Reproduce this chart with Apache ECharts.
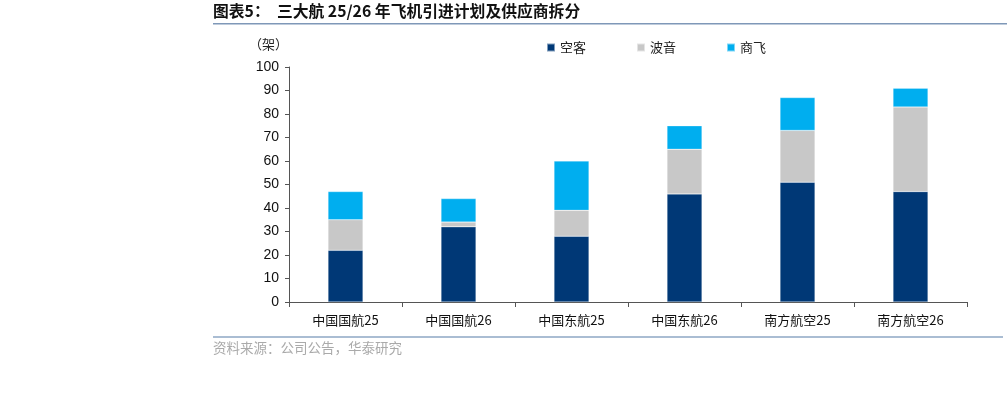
<!DOCTYPE html>
<html>
<head>
<meta charset="utf-8">
<script src="https://cdn.jsdelivr.net/npm/echarts@6/dist/echarts.min.js"></script>
<style>
  html, body { margin: 0; padding: 0; background: #fff; }
  #chart { width: 1007px; height: 400px; }
</style>
</head>
<body>
<div id="chart"></div>
<script>
var categories = ['中国国航25', '中国国航26', '中国东航25', '中国东航26', '南方航空25', '南方航空26'];
var airbus = [22, 32, 28, 46, 51, 47];
var boeing = [13, 2, 11, 19, 22, 36];
var comac = [12, 10, 21, 10, 14, 8];
var seriesNames = ['空客', '波音', '商飞'];
var yTicks = [0, 10, 20, 30, 40, 50, 60, 70, 80, 90, 100];

var myColor = ['#003876', '#c8c8c8', '#00aeef'];
var cjk = "'Noto Sans CJK SC', sans-serif";
var latin = "'Liberation Sans', Arial, sans-serif";

var chart = echarts.init(document.getElementById('chart'));

function bar(name, data, idx) {
  return {
    name: name,
    type: 'bar',
    stack: 'total',
    data: data,
    barWidth: 35,
    itemStyle: {
      color: myColor[idx],
      borderColor: 'rgba(255,255,255,0.5)',
      borderWidth: 0.5
    }
  };
}

chart.setOption({
  animation: false,
  color: myColor,
  grid: { left: 289, right: 40, top: 67, bottom: 98 },
  legend: {
    data: seriesNames,
    top: 36,
    left: 541,
    itemGap: 50,
    itemWidth: 8,
    itemHeight: 8,
    icon: 'rect',
    textStyle: { fontFamily: cjk, fontSize: 13, color: '#222' }
  },
  xAxis: {
    type: 'category',
    data: categories,
    axisLine: { lineStyle: { color: '#555', width: 1 } },
    axisTick: { show: true, length: 5, lineStyle: { color: '#555' } },
    axisLabel: { fontFamily: cjk, fontSize: 13, color: '#111', margin: 12 }
  },
  yAxis: {
    type: 'value',
    min: yTicks[0],
    max: yTicks[yTicks.length - 1],
    interval: 10,
    splitLine: { show: false },
    axisLine: { show: true, lineStyle: { color: '#555', width: 1 } },
    axisTick: { show: true, length: 4, lineStyle: { color: '#555' } },
    axisLabel: { fontFamily: latin, fontSize: 14, color: '#111', margin: 10 }
  },
  graphic: [
    {
      type: 'text', left: 213, top: 3,
      style: { text: '图表5：  三大航 25/26 年飞机引进计划及供应商拆分', font: 'bold 15.8px ' + cjk, fill: '#111' }
    },
    {
      type: 'rect', shape: { x: 213, y: 23, width: 794, height: 1.5 },
      style: { fill: '#7f98b8' }
    },
    {
      type: 'text', left: 249, top: 38,
      style: { text: '（架）', font: '13px ' + cjk, fill: '#222' }
    },
    {
      type: 'rect', shape: { x: 213, y: 336, width: 790, height: 2 },
      style: { fill: '#aabdd3' }
    },
    {
      type: 'text', left: 213, top: 341,
      style: { text: '资料来源：公司公告，华泰研究', font: '13.5px ' + cjk, fill: '#aaa' }
    }
  ],
  series: [
    bar(seriesNames[0], airbus, 0),
    bar(seriesNames[1], boeing, 1),
    bar(seriesNames[2], comac, 2)
  ]
});
</script>
</body>
</html>
